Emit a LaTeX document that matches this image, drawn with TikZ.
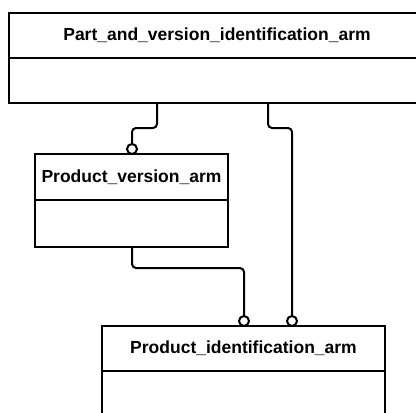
\documentclass[tikz,border=0pt]{standalone}
\usepackage{fontspec}
\setmainfont{Liberation Sans}
\usetikzlibrary{positioning}
\begin{document}
\begin{tikzpicture}[x=1pt,y=-1pt]
    \tikzstyle{entity}=[rectangle,draw=black,line width=2pt,outer sep=0pt,inner sep=0pt,font=\fontsize{17.5}{20}\selectfont\bfseries]
    \tikzstyle{ring}=[circle,draw=black,fill=white,line width=2pt,minimum size=10pt,inner sep=0pt,outer sep=0pt]
    \tikzstyle{link}=[draw=black,line width=2pt,rounded corners=4pt]
    \useasboundingbox (0,0) rectangle (416,413);
    \clip (0,0) rectangle (416,413);

    \node[entity,minimum width=416pt,minimum height=45pt] (pvi) at (217,35.5) {Part\_and\_version\_identification\_arm};
    \node[entity,minimum width=416pt,minimum height=45pt,below=0pt of pvi] (pvi-attr) {};

    \node[entity,minimum width=193pt,minimum height=46pt] (pv) at (131.5,177) {Product\_version\_arm};
    \node[entity,minimum width=193pt,minimum height=47pt,below=0pt of pv] (pv-attr) {};

    \node[entity,minimum width=283pt,minimum height=45pt] (pid) at (243.5,348.5) {Product\_identification\_arm};
    \node[entity,minimum width=283pt,minimum height=49pt,below=0pt of pid] (pid-attr) {};

    \node[ring,anchor=south] (r-pv) at (pv.north -| 132,0) {};
    \node[ring,anchor=south] (r-pid-a) at (pid.north -| 244,0) {};
    \node[ring,anchor=south] (r-pid-b) at (pid.north -| 292,0) {};

    \draw[link] (pvi-attr.south -| 157,0) -- ++(0,25) -| (r-pv.north);
    \draw[link] (pvi-attr.south -| 268,0) -- ++(0,25) -| (r-pid-b.north);
    \draw[link] (pv-attr.south -| 132,0) -- ++(0,21) -| (r-pid-a.north);

\end{tikzpicture}
\end{document}
